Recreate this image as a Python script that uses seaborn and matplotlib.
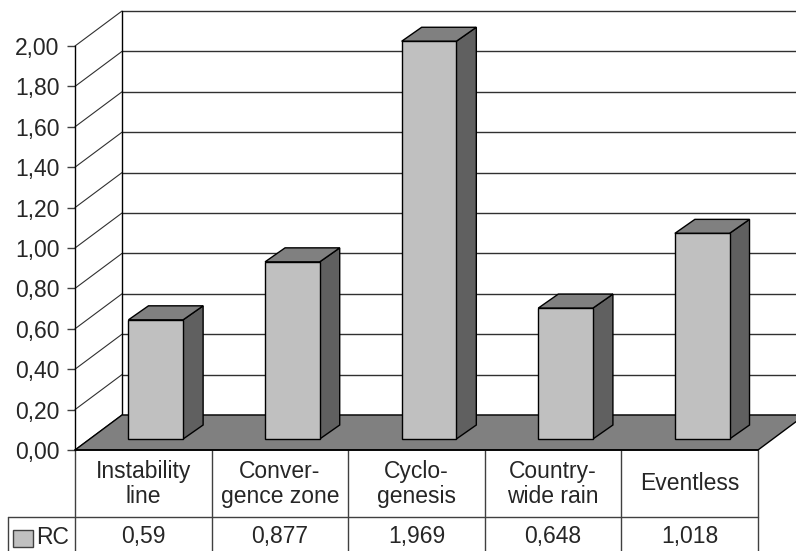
import numpy as np
import pandas as pd
from matplotlib import pyplot as plt
from matplotlib.patches import Polygon, Rectangle
import seaborn as sns

sns.set_style("white")
plt.rcParams["font.family"] = ["Liberation Sans", "DejaVu Sans"]

categories = ["Instability line", "Convergence zone", "Cyclogenesis", "Country-wide rain", "Eventless"]
header_labels = ["Instability\nline", "Conver-\ngence zone", "Cyclo-\ngenesis", "Country-\nwide rain", "Eventless"]
values = [0.59, 0.877, 1.969, 0.648, 1.018]
value_labels = ["0,59", "0,877", "1,969", "0,648", "1,018"]
series_name = "RC"
yticks = [0.0, 0.2, 0.4, 0.6, 0.8, 1.0, 1.2, 1.4, 1.6, 1.8, 2.0]

df = pd.DataFrame({"cat": categories, "val": values})

W, H = 796, 551
fig = plt.figure(figsize=(W / 100, H / 100), dpi=100)
ax = fig.add_axes([75 / W, (H - 450) / H, 683 / W, 404 / H])

# pixel -> data helpers
px_x = 5 / 683
px_y = 2 / 404

# back wall offset and bar offsets (pixels)
back_dx, back_dy = 47 * px_x, 35 * px_y
bar_sx, bar_sy = 12.5 * px_x, 11 * px_y
dep_dx, dep_dy = 20 * px_x, 14 * px_y

front = "#c0c0c0"
side = "#606060"
topc = "#808080"
fs = 16.5

sns.barplot(df, x="cat", y="val", color=front, saturation=1, width=0.4,
            edgecolor="black", linewidth=1, ax=ax, zorder=5)

ax.set_xlim(-0.5, 4.5)
ax.set_ylim(0, 2)

# back wall grid lines + diagonals
for v in yticks:
    ax.plot([-0.5, -0.5 + back_dx], [v, v + back_dy], color="#303030", lw=0.8,
            clip_on=False, zorder=1)
    ax.plot([-0.5 + back_dx, 5.2], [v + back_dy, v + back_dy], color="#303030",
            lw=1, clip_on=False, zorder=1)
ax.plot([-0.5 + back_dx, -0.5 + back_dx], [back_dy, 2 + back_dy], color="black",
        lw=1, clip_on=False, zorder=1)

# floor
floor = Polygon([(-0.5, 0), (4.5, 0), (4.5 + back_dx, back_dy), (-0.5 + back_dx, back_dy)],
                closed=True, facecolor="#808080", edgecolor="black", lw=1,
                clip_on=False, zorder=2)
ax.add_patch(floor)

# shift bars and add 3d faces
for p in ax.patches[:]:
    if not isinstance(p, Rectangle):
        continue
    p.set_x(p.get_x() + bar_sx)
    p.set_y(p.get_y() + bar_sy)
    p.set_clip_on(False)
    x0 = p.get_x()
    x1 = x0 + p.get_width()
    y0 = p.get_y()
    y1 = y0 + p.get_height()
    ax.add_patch(Polygon([(x1, y0), (x1 + dep_dx, y0 + dep_dy), (x1 + dep_dx, y1 + dep_dy), (x1, y1)],
                         closed=True, facecolor=side, edgecolor="black", lw=1,
                         clip_on=False, zorder=4))
    ax.add_patch(Polygon([(x0, y1), (x1, y1), (x1 + dep_dx, y1 + dep_dy), (x0 + dep_dx, y1 + dep_dy)],
                         closed=True, facecolor=topc, edgecolor="black", lw=1,
                         clip_on=False, zorder=4))

for s in ["top", "right", "bottom"]:
    ax.spines[s].set_visible(False)
ax.spines["left"].set_color("black")
ax.spines["left"].set_linewidth(1)
ax.spines["left"].set_zorder(6)

ax.set_yticks(yticks)
ax.set_yticklabels([f"{v:.2f}".replace(".", ",") for v in yticks], fontsize=fs)
ax.tick_params(axis="y", left=True, length=6, width=1, color="#404040", pad=5)
ax.set_xticks([])
ax.set_xlabel("")
ax.set_ylabel("")

# data table below the plot
row1 = -67 * px_y
bottom = -0.52
lc = "#404040"
ax.plot([-0.5, 4.5], [0, 0], color="black", lw=1.2, clip_on=False, zorder=6)
ax.plot([-0.5 - 67 * px_x, 4.5], [row1, row1], color=lc, lw=1, clip_on=False)
for i in range(6):
    ax.plot([i - 0.5, i - 0.5], [0, bottom], color=lc, lw=1, clip_on=False)
ax.plot([-0.5 - 67 * px_x] * 2, [row1, bottom], color=lc, lw=1, clip_on=False)

for i, (h, v) in enumerate(zip(header_labels, value_labels)):
    ax.text(i, -34 * px_y, h, ha="center", va="center", fontsize=fs,
            linespacing=1.15, clip_on=False)
    ax.text(i, -87 * px_y, v, ha="center", va="center", fontsize=fs, clip_on=False)

ax.add_patch(Rectangle((-0.5 - 62 * px_x, -97 * px_y), 20 * px_x, 17 * px_y,
                       facecolor=front, edgecolor="#404040", lw=1, clip_on=False))
ax.text(-0.5 - 39 * px_x, -87 * px_y, series_name, ha="left", va="center",
        fontsize=fs, clip_on=False)

fig.savefig("out.png", dpi=100)
